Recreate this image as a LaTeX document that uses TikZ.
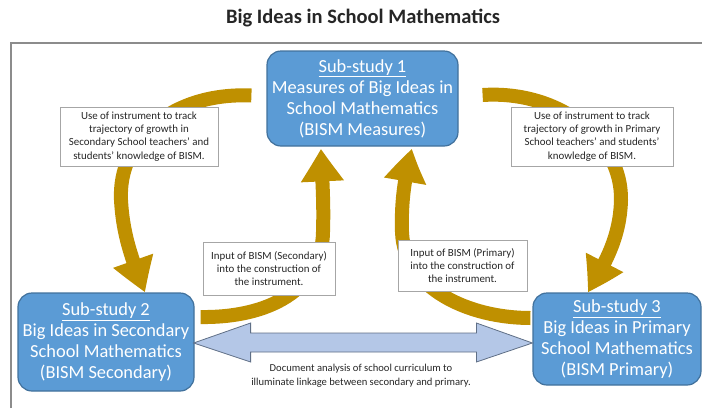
\documentclass[tikz,border=0pt]{standalone}
\usepackage{fontspec}
\setmainfont{Carlito}
\usetikzlibrary{arrows.meta,bending,calc}
\definecolor{boxblue}{HTML}{5B9BD5}
\definecolor{boxedge}{HTML}{41719C}
\definecolor{goldband}{HTML}{BF9000}
\definecolor{arrblue}{HTML}{B4C7E7}
\definecolor{arredge}{HTML}{5F6F86}
\definecolor{framegray}{HTML}{8C8C8C}
\definecolor{labelgray}{HTML}{A6A6A6}
\begin{document}
\begin{tikzpicture}[x=1pt,y=-1pt,
  studybox/.style={draw=boxedge, line width=1.2pt, fill=boxblue, rounded corners=14pt, text=white, align=center, font=\fontsize{18.4}{21}\selectfont, inner sep=0pt},
  notebox/.style={draw=labelgray, line width=0.6pt, fill=white, align=center, font=\fontsize{10.9}{13.2}\selectfont, inner sep=0pt, text=black!85},
  goldarrow/.style={draw=goldband, line width=14pt, -{Triangle[length=34pt,width=40pt,bend]}},
  dblarrow/.style={fill=arrblue, draw=arredge, line width=0.8pt, line join=miter},
]
\useasboundingbox (0,0) rectangle (702,408);
% title and frame
\node[font=\fontsize{20.5}{24}\selectfont\bfseries, text=black!85] (title) at (363,18) {Big Ideas in School Mathematics};
\draw[framegray, line width=1.3pt] (11,408) -- (11,43) -- (702,43);

% study boxes
\node[studybox, minimum width=191pt, minimum height=95pt] (b1) at (362.5,98.5)
  {\underline{Sub-study 1}\\Measures of Big Ideas in\\School Mathematics\\(BISM Measures)};
\node[studybox, minimum width=176pt, minimum height=98pt] (b2) at (106,342)
  {\underline{Sub-study 2}\\Big Ideas in Secondary\\School Mathematics\\(BISM Secondary)};
\node[studybox, minimum width=168pt, minimum height=92pt] (b3) at (617,339)
  {\underline{Sub-study 3}\\Big Ideas in Primary\\School Mathematics\\(BISM Primary)};

% gold connector ends
\coordinate (lS) at ($(b1.west)+(-15,-3)$);
\coordinate (lT) at ($(b2.north)+(39,0)$);
\coordinate (rS) at ($(b1.east)+(24,-3.5)$);
\coordinate (rT) at ($(b3.north)+(-29,0)$);
\coordinate (isS) at ($(b2.east)+(6,-25)$);
\coordinate (isT) at ($(b1.south)+(-41.5,2)$);
\coordinate (ipS) at ($(b3.west)+(-2,-21)$);
\coordinate (ipT) at ($(b1.south)+(49.5,2)$);

\draw[goldarrow] (lS) .. controls (172,92) and (118,140) .. (121,200) .. controls (123,238) and (134,264) .. (lT);
\draw[goldarrow] (rS) .. controls (560,90) and (622,140) .. (621,200) .. controls (620,240) and (603,266) .. (rT);
\draw[goldarrow] (isS) .. controls (268,318) and (322,290) .. (323,232) .. controls (324,200) and (322,178) .. (isT);
\draw[goldarrow] (ipS) .. controls (468,318) and (404,288) .. (402,232) .. controls (401,200) and (405,176) .. (ipT);

% labels
\node[notebox, minimum width=158pt, minimum height=59pt] (tl) at (139,136.5)
  {Use of instrument to track\\trajectory of growth in\\Secondary School teachers' and\\students' knowledge of BISM.};
\node[notebox, minimum width=162pt, minimum height=59pt] (tr) at (592,136.5)
  {Use of instrument to track\\trajectory of growth in Primary\\School teachers' and students'\\knowledge of BISM.};
\node[notebox, minimum width=132pt, minimum height=53pt] (is) at (269,268.5)
  {Input of BISM (Secondary)\\into the construction of\\the instrument.};
\node[notebox, minimum width=129pt, minimum height=51pt] (ip) at (462.5,265.5)
  {Input of BISM (Primary)\\into the construction of\\the instrument.};

% double arrow between sub-studies 2 and 3
\coordinate (dl) at ($(b2.east)+(-1,1)$);
\coordinate (dr) at ($(b3.west)+(0,4)$);
\draw[dblarrow] (dl) -- ($(dl)+(57,-20)$) -- ($(dl)+(57,-10)$) -- ($(dr)+(-56,-10)$) -- ($(dr)+(-56,-20)$) -- (dr)
  -- ($(dr)+(-56,19)$) -- ($(dr)+(-56,9)$) -- ($(dl)+(57,9)$) -- ($(dl)+(57,19)$) -- cycle;
\node[align=center, font=\fontsize{10.6}{14}\selectfont, text=black!85] (doc) at (361,376)
  {Document analysis of school curriculum to\\illuminate linkage between secondary and primary.};
\end{tikzpicture}
\end{document}
